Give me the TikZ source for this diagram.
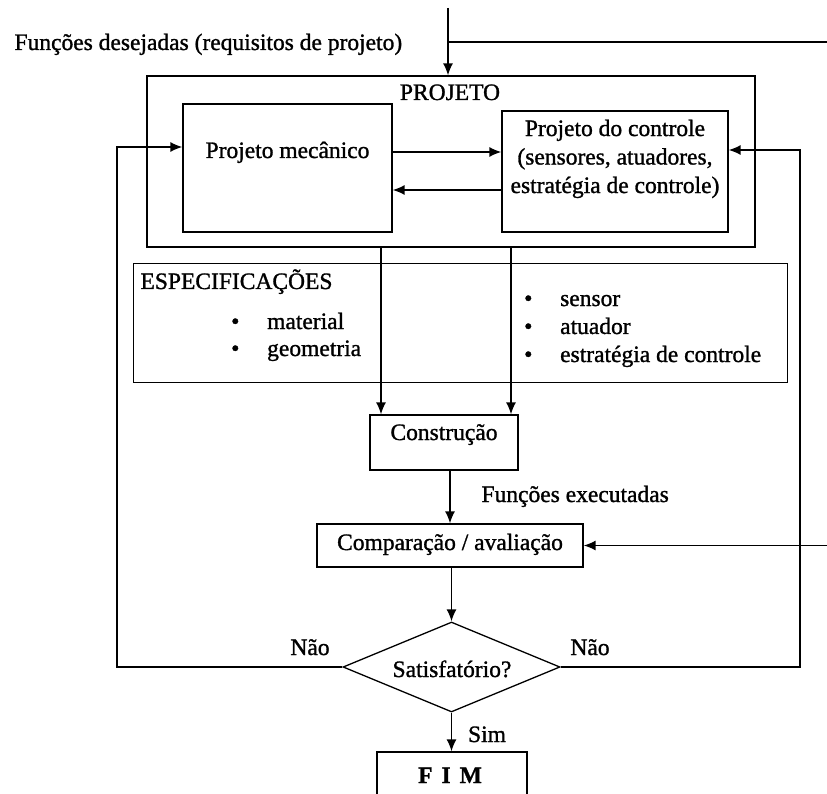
\documentclass[tikz,border=0pt]{standalone}
\usepackage{fontspec}
\setmainfont{Liberation Serif}[FakeBold=1.2]
\usetikzlibrary{shapes.geometric, arrows.meta, positioning, calc}

\begin{document}
\begin{tikzpicture}[x=1pt, y=-1pt, align=center, font=\fontsize{23.5}{28.5}\selectfont,
    caixa/.style={draw, rectangle, inner sep=0pt, line width=1.3pt},
    seta/.style={-{Latex[length=12pt, width=10pt]}, line width=1.4pt}]
  \useasboundingbox (0,0) rectangle (827,794);

  % entrada
  \node [anchor=base west] (requisitos) at (11,50) {Funções desejadas (requisitos de projeto)};
  \coordinate (entrada) at (448,8);
  \coordinate (desvio) at (448,42);
  \coordinate (direita) at (831,42);

  % bloco de projeto
  \node [caixa, minimum width=608pt, minimum height=171pt] (projeto) at (451,161.5) {};
  \node [anchor=base] (titulo) at (450,100) {PROJETO};
  \node [caixa, minimum width=209pt, minimum height=128pt] (mecanico) at (287.5,168) {};
  \node [anchor=base] (txtmec) at (287.5,158) {Projeto mecânico};
  \node [caixa, minimum width=226pt, minimum height=121pt] (controle) at (615,171.5) {};
  \node [anchor=north, inner sep=0pt] (txtctrl) at (615,119.5)
    {Projeto do controle\\ (sensores, atuadores,\\ estratégia de controle)};

  % especificacoes
  \node [caixa, line width=0.9pt, minimum width=654pt, minimum height=119pt] (espec) at (460,322.5) {};
  \node [anchor=base west] (txtespec) at (137,289) {ESPECIFICAÇÕES};
  \node [anchor=base west, inner sep=0pt] (material) at (231,329) {\makebox[36pt][l]{\textbullet}material};
  \node [anchor=base west, inner sep=0pt] (geometria) at (231,356) {\makebox[36pt][l]{\textbullet}geometria};
  \node [anchor=base west, inner sep=0pt] (sensor) at (524,306) {\makebox[36pt][l]{\textbullet}sensor};
  \node [anchor=base west, inner sep=0pt] (atuador) at (524,334) {\makebox[36pt][l]{\textbullet}atuador};
  \node [anchor=base west, inner sep=0pt] (estrategia) at (524,362) {\makebox[36pt][l]{\textbullet}estratégia de controle};

  % construcao e avaliacao
  \node [caixa, minimum width=148pt, minimum height=55pt] (construcao) at (444,442.5) {};
  \node [anchor=base] (txtcons) at (444,440) {Construção};
  \node [anchor=base west] (executadas) at (478,502) {Funções executadas};
  \node [caixa, minimum width=266pt, minimum height=43pt] (comparacao) at (450,545.5) {};
  \node [anchor=base] (txtcomp) at (450,550) {Comparação / avaliação};
  \node [draw, diamond, inner sep=0pt, line width=1.3pt, minimum width=217pt, minimum height=90pt] (satisfatorio) at (451.5,667) {};
  \node [anchor=base] (txtsat) at (452,677) {Satisfatório?};
  \node [anchor=base] (naoesq) at (310,655) {Não};
  \node [anchor=base] (naodir) at (590,655) {Não};
  \node [anchor=base] (sim) at (487,742) {Sim};
  \node [caixa, minimum width=150pt, minimum height=60pt] (fim) at (452,782) {};
  \node [anchor=base] (txtfim) at (450,783) {\textbf{F\hspace{9pt}I\hspace{9pt}M}};

  % ligacoes
  \coordinate (ida) at (0,152);
  \coordinate (volta) at (0,190);
  \coordinate (esq) at (117,147);
  \coordinate (dir) at (800,150);
  \coordinate (fluxoA) at (381,0);
  \coordinate (fluxoB) at (511,0);

  \draw[seta] (entrada) -- (entrada |- projeto.north);
  \draw[seta] (desvio) -- (direita) |- (comparacao.east);
  \draw[seta] (mecanico.east |- ida) -- (controle.west |- ida);
  \draw[seta] (controle.west |- volta) -- (mecanico.east |- volta);
  \draw[seta] (projeto.south -| fluxoA) -- (construcao.north -| fluxoA);
  \draw[seta] (projeto.south -| fluxoB) -- (construcao.north -| fluxoB);
  \draw[seta] (construcao.south -| comparacao.north) -- (comparacao.north);
  \draw[seta] (comparacao.south -| satisfatorio.north) -- (satisfatorio.north);
  \draw[seta] (satisfatorio.west) -| (esq) -- (esq -| mecanico.west);
  \draw[seta] (satisfatorio.east) -| (dir) -- (dir -| controle.east);
  \draw[seta] (satisfatorio.south) -- (satisfatorio.south |- fim.north);
\end{tikzpicture}
\end{document}
